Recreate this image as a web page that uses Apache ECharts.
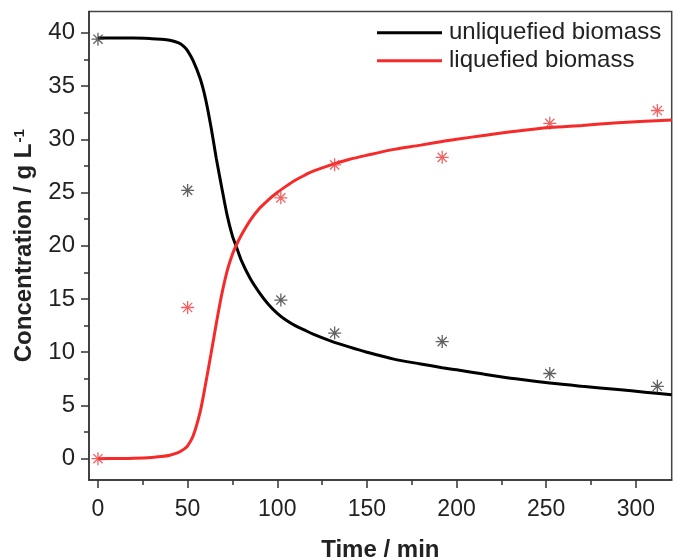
<!DOCTYPE html>
<html>
<head>
<meta charset="utf-8">
<script src="https://cdn.jsdelivr.net/npm/echarts@6/dist/echarts.min.js"></script>
<style>html,body{margin:0;padding:0;background:#fff}#chart{width:681px;height:560px}</style>
</head>
<body>
<div id="chart"></div>
<script>
// Observed data (markers)
const timeObs = [0, 50, 102, 132, 192, 252, 312];
const unliqObs = [39.4, 25.2, 14.9, 11.8, 11.0, 8.0, 6.8];
const liqObs = [0, 14.2, 24.5, 27.6, 28.3, 31.5, 32.7];

// Fitted curves
const fitTime = [0,10,20,30,35,40,45,48,50,53,57,60,63,66,69,72,75,77,80,85,90,95,100,105,110,115,120,130,140,150,165,180,192,200,215,233,252,270,290,305,320];
const unliqFit = [39.5,39.5,39.5,39.45,39.4,39.3,39.05,38.7,38.3,37.4,35.7,33.8,31.2,28.2,25.5,22.9,20.9,20.0,18.6,16.9,15.6,14.5,13.65,13.0,12.5,12.1,11.7,11.05,10.5,10.0,9.35,8.9,8.55,8.35,7.95,7.5,7.1,6.8,6.5,6.25,6.0];
const liqFit = [0,0.02,0.05,0.12,0.2,0.33,0.6,0.9,1.2,2.1,4.4,7.0,9.8,12.7,15.4,17.6,19.2,20.0,21.0,22.4,23.5,24.3,25.0,25.6,26.15,26.6,27.0,27.6,28.1,28.5,29.05,29.45,29.8,30.0,30.35,30.75,31.1,31.3,31.55,31.7,31.8];

// Tick values
const xTicks = [0, 50, 100, 150, 200, 250, 300];
const xMinor = [25, 75, 125, 175, 225, 275];
const yTicks = [0, 5, 10, 15, 20, 25, 30, 35, 40];
const yMinor = [2.5, 7.5, 12.5, 17.5, 22.5, 27.5, 32.5, 37.5];

const seriesNames = ['unliquefied biomass', 'liquefied biomass'];

const zip = (a, b) => a.map((v, i) => [v, b[i]]);
const star = 'path://M0,-10L0,10M-10,0L10,0M-7.07,-7.07L7.07,7.07M-7.07,7.07L7.07,-7.07';
const font = 'Liberation Sans, Arial, sans-serif';
const axisColor = '#333';

const chart = echarts.init(document.getElementById('chart'), null, {renderer: 'canvas'});
const commonAxis = {
  type: 'value',
  splitLine: {show: false},
  axisLine: {show: true, onZero: false, lineStyle: {color: axisColor, width: 1.5}},
};
chart.setOption({
  animation: false,
  backgroundColor: '#fff',
  textStyle: {fontFamily: font},
  grid: {left: 89, top: 11.5, right: 9.3, bottom: 80, show: true, borderColor: '#444', borderWidth: 1.5,
         containLabel: false, outerBoundsMode: 'none'},
  legend: {
    orient: 'vertical', left: 377, top: 19.7, padding: 0,
    data: seriesNames, icon: 'rect', itemWidth: 65, itemHeight: 3, itemGap: 2,
    textStyle: {fontSize: 24, color: '#222', fontFamily: font, lineHeight: 26, padding: [0, 0, 0, 2]}
  },
  xAxis: [
    Object.assign({}, commonAxis, {
      min: -5, max: 320,
      axisTick: {show: true, customValues: xTicks, length: 8, lineStyle: {color: axisColor, width: 1.5}},
      axisLabel: {customValues: xTicks, fontSize: 23, color: '#222', margin: 18, fontFamily: font},
      name: 'Time / min', nameLocation: 'middle', nameGap: 58,
      nameTextStyle: {fontWeight: 'bold', fontSize: 24, color: '#222', fontFamily: font}
    }),
    Object.assign({}, commonAxis, {
      min: -5, max: 320, position: 'bottom',
      axisLine: {show: false, onZero: false},
      axisTick: {show: true, customValues: xMinor, length: 5, lineStyle: {color: axisColor, width: 1.5}},
      axisLabel: {show: false}
    })
  ],
  yAxis: [
    Object.assign({}, commonAxis, {
      min: -2, max: 42,
      axisTick: {show: true, customValues: yTicks, length: 8, lineStyle: {color: axisColor, width: 1.5}},
      axisLabel: {customValues: yTicks, fontSize: 24, color: '#222', margin: 14, fontFamily: font},
      name: '{a|Concentration / g L}{b|-1}', nameLocation: 'middle', nameGap: 52,
      nameTextStyle: {
        rich: {
          a: {fontWeight: 'bold', fontSize: 24, color: '#222', fontFamily: font},
          b: {fontWeight: 'bold', fontSize: 15, color: '#222', fontFamily: font, verticalAlign: 'top', padding: [0, 0, 10, 1]}
        }
      }
    }),
    Object.assign({}, commonAxis, {
      min: -2, max: 42, position: 'left',
      axisLine: {show: false, onZero: false},
      axisTick: {show: true, customValues: yMinor, length: 5, lineStyle: {color: axisColor, width: 1.5}},
      axisLabel: {show: false}
    })
  ],
  series: [
    {
      name: seriesNames[0], type: 'line', data: zip(fitTime, unliqFit),
      showSymbol: false, symbol: 'none', smooth: 0.3,
      lineStyle: {color: '#000', width: 3}, itemStyle: {color: '#000'}, z: 3
    },
    {
      name: seriesNames[1], type: 'line', data: zip(fitTime, liqFit),
      showSymbol: false, symbol: 'none', smooth: 0.3,
      lineStyle: {color: '#f62a2a', width: 3}, itemStyle: {color: '#f62a2a'}, z: 3
    },
    {
      name: 'unliquefied data', type: 'scatter', data: zip(timeObs, unliqObs),
      symbol: star, symbolSize: 13,
      itemStyle: {color: 'rgba(0,0,0,0)', borderColor: '#3a3a3a', borderWidth: 1.3}, z: 4
    },
    {
      name: 'liquefied data', type: 'scatter', data: zip(timeObs, liqObs),
      symbol: star, symbolSize: 13,
      itemStyle: {color: 'rgba(0,0,0,0)', borderColor: '#ee3b3b', borderWidth: 1.3}, z: 4
    }
  ]
});
</script>
</body>
</html>
